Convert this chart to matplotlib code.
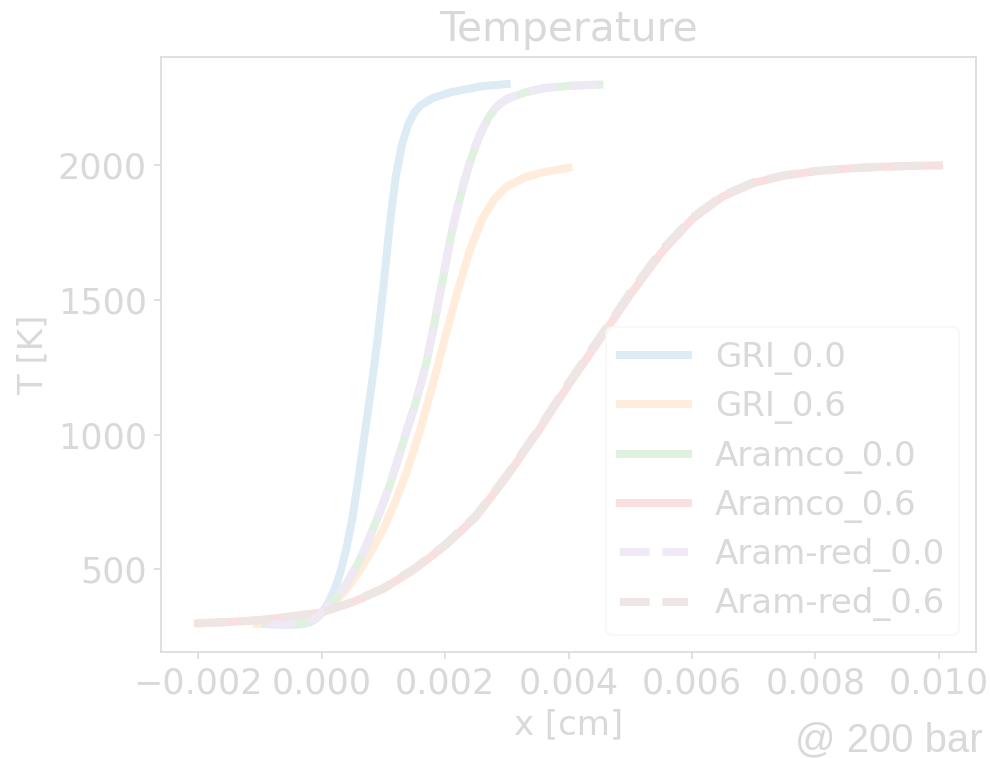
import matplotlib
matplotlib.use("Agg")
import matplotlib.pyplot as plt
from matplotlib.colors import to_rgb

# ---- data (x in cm, T in K) ----
x_gri_00 = [-0.0009, -0.0007, -0.0005, -0.0003, -0.0002, -0.0001, 0.0, 0.0001, 0.0002, 0.0003,
            0.0004, 0.0005, 0.0006, 0.0007, 0.0008, 0.0009, 0.001, 0.0011, 0.0012, 0.0013,
            0.0014, 0.0015, 0.0016, 0.0018, 0.0021, 0.0026, 0.003]
T_gri_00 = [297, 295, 294, 297, 303, 315, 338, 372, 420, 485,
            575, 690, 840, 1005, 1165, 1340, 1545, 1770, 1955, 2075,
            2150, 2195, 2222, 2250, 2272, 2294, 2302]

x_gri_06 = [-0.00105, -0.0007, -0.0004, -0.0002, 0.0, 0.0002, 0.0004, 0.0006, 0.0008, 0.001,
            0.0012, 0.0014, 0.0016, 0.0018, 0.002, 0.0022, 0.0024, 0.0026, 0.0028, 0.003,
            0.0033, 0.0036, 0.004]
T_gri_06 = [298, 298, 302, 313, 336, 375, 425, 490, 565, 650,
            755, 875, 1020, 1185, 1360, 1530, 1685, 1800, 1875, 1922,
            1956, 1975, 1991]

x_aramco_00 = [-0.0009, -0.0006, -0.0003, -0.0001, 0.0, 0.0001, 0.0002, 0.0003, 0.0004, 0.0005,
               0.0006, 0.0007, 0.0008, 0.0009, 0.001, 0.0011, 0.0012, 0.0013, 0.0014, 0.0015,
               0.0016, 0.0017, 0.0018, 0.0019, 0.002, 0.0021, 0.0022, 0.0023, 0.0024, 0.0025,
               0.0026, 0.0027, 0.0028, 0.0029, 0.003, 0.0033, 0.0036, 0.004, 0.0045]
T_aramco_00 = [298, 297, 303, 318, 337, 360, 385, 412, 445, 485,
               527, 575, 630, 688, 745, 810, 880, 955, 1028, 1100,
               1180, 1270, 1380, 1500, 1620, 1740, 1840, 1930, 2008, 2075,
               2130, 2175, 2208, 2230, 2246, 2271, 2286, 2295, 2300]

x_aramco_06 = [-0.002, -0.0015, -0.001, -0.0005, 0.0, 0.0005, 0.001, 0.0015, 0.002, 0.0025,
               0.003, 0.0035, 0.004, 0.0045, 0.005, 0.0055, 0.006, 0.0065, 0.007, 0.0075,
               0.008, 0.0085, 0.009, 0.0095, 0.010]
T_aramco_06 = [300, 305, 312, 325, 340, 378, 428, 500, 588, 695,
               845, 1010, 1185, 1352, 1520, 1675, 1800, 1885, 1935, 1962,
               1978, 1988, 1994, 1998, 2000]

x_aramred_00 = list(x_aramco_00)
T_aramred_00 = [298, 297, 303, 318, 338, 361, 386, 413, 446, 487,
                529, 577, 632, 690, 748, 813, 883, 958, 1031, 1103,
                1183, 1273, 1383, 1503, 1624, 1744, 1844, 1933, 2010, 2077,
                2132, 2176, 2209, 2231, 2247, 2272, 2287, 2296, 2300]

x_aramred_06 = list(x_aramco_06)
T_aramred_06 = [300, 305, 312, 326, 341, 380, 431, 503, 592, 700,
                850, 1016, 1192, 1360, 1528, 1683, 1806, 1889, 1938, 1964,
                1979, 1989, 1994, 1998, 2000]

labels = ["GRI_0.0", "GRI_0.6", "Aramco_0.0", "Aramco_0.6", "Aram-red_0.0", "Aram-red_0.6"]
series = [(x_gri_00, T_gri_00, "-"), (x_gri_06, T_gri_06, "-"),
          (x_aramco_00, T_aramco_00, "-"), (x_aramco_06, T_aramco_06, "-"),
          (x_aramred_00, T_aramred_00, "--"), (x_aramred_06, T_aramred_06, "--")]
colors = ["tab:blue", "tab:orange", "tab:green", "tab:red", "tab:purple", "tab:brown"]

ALPHA = 0.15


def fade(c):
    r, g, b = to_rgb(c)
    return (1 - ALPHA * (1 - r), 1 - ALPHA * (1 - g), 1 - ALPHA * (1 - b))


txt = fade("black")
plt.rcParams.update({
    "font.size": 17,
    "text.color": txt,
    "axes.labelcolor": txt,
    "axes.edgecolor": txt,
    "xtick.color": txt,
    "ytick.color": txt,
    "xtick.labelsize": 17.5,
    "ytick.labelsize": 17.5,
})

fig = plt.figure(figsize=(990 / 144, 758 / 144), dpi=144)
ax = fig.add_axes([161 / 990, 1 - 652 / 758, (976 - 161) / 990, (652 - 57) / 758])

for (xs, ts, ls), lab, c in zip(series, labels, colors):
    ax.plot(xs, ts, ls, color=fade(c), lw=4, label=lab)

ax.set_title("Temperature", fontsize="large", pad=8)
ax.set_xlabel("x [cm]")
ax.set_ylabel("T [K]")
ax.set_xticks([-0.002, 0.0, 0.002, 0.004, 0.006, 0.008, 0.010])
ax.set_yticks([500, 1000, 1500, 2000])

leg = ax.legend(loc="lower right", labelspacing=0.45)
leg.get_frame().set_edgecolor(fade((0.8, 0.8, 0.8)))
for t in leg.get_texts():
    t.set_color(txt)

fig.text(983 / 990, 7 / 758, "@ 200 bar", ha="right", va="baseline",
         fontsize=20, family="Liberation Sans", color=txt)

fig.savefig("out.png", dpi=144)
